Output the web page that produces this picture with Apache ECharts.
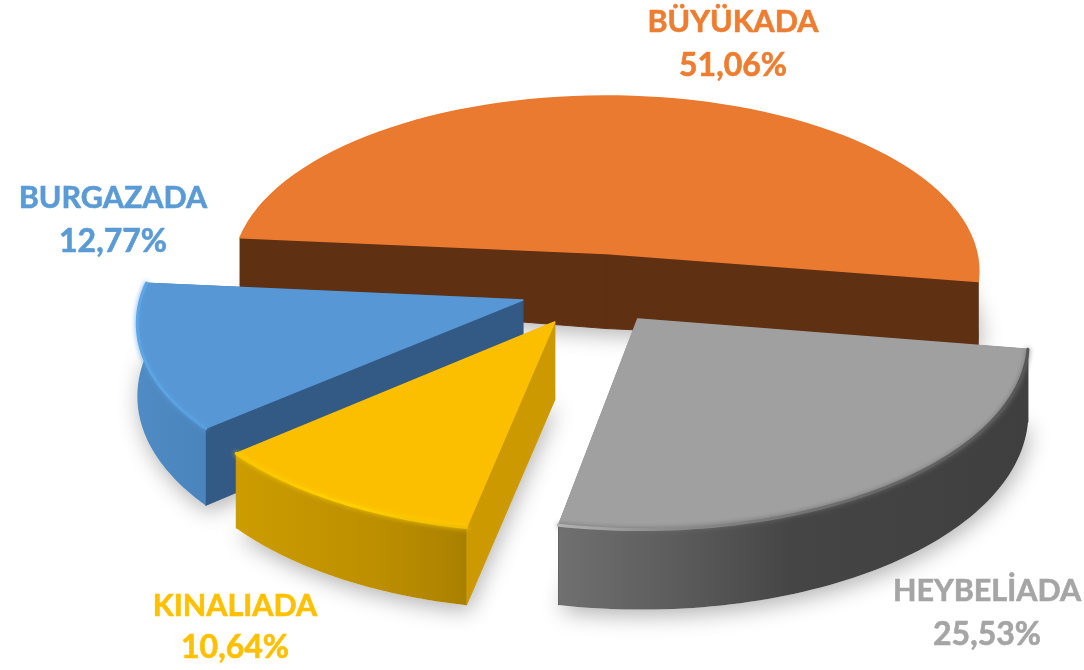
<!DOCTYPE html>
<html>
<head>
<meta charset="utf-8">
<style>html,body{margin:0;padding:0;background:#fff}#c{width:1084px;height:670px}</style>
<script src="https://cdn.jsdelivr.net/npm/echarts@6/dist/echarts.min.js"></script>
</head>
<body>
<div id="c"></div>
<script>
// Data, clockwise from the large slice
var names = ['BÜYÜKADA', 'HEYBELİADA', 'KINALIADA', 'BURGAZADA'];
var values = [51.06, 25.53, 10.64, 12.77];

// Styles
var topColors = ['#ea7a30', '#a0a0a0', '#fbbf00', '#5797d5'];
var radialColors = ['#5f3112', '#555555', '#cc9a00', '#335a85'];
var wallStops = [
  [[0, '#5f3112'], [1, '#5f3112']],
  [[0, '#707070'], [0.25, '#5c5c5c'], [0.5, '#454545'], [1, '#3f3f3f']],
  [[0, '#cc9c00'], [0.6, '#bd8f00'], [1, '#aa8000']],
  [[0, '#4f8bc4'], [1, '#4a84bc']]
];
var rimStops = [
  null,
  [[0, '#b4b4b4'], [0.2, '#909090'], [0.6, '#6c6c6c'], [1, '#565656']],
  [[0, '#f7c600'], [0.5, '#ffd000'], [1, '#f0bc00']],
  [[0, '#5ea6e6'], [1, '#5a9fdd']]
];
var labelColors = ['#ed7d31', '#a5a5a5', '#ffc000', '#5b9bd5'];

// Layout: projection, per-slice offset, radius and depth, label anchors
var proj = {cx: 606, cy: 253.5, a: 368, b: 172, k: 0.1, startDeg: 185.3};
var offsets = [[0, 0], [0.083, 0.367], [-0.134, 0.383], [-0.22, 0.263]];
var radii = [1.008, 1.016, 1.01, 1.012];
var rimDepths = [63, 69, 67, 70];
var apexDepths = [75, 75, 78, 72];
var labelPos = [[733, 22, 66], [987, 591, 635], [235, 606, 648], [113, 198, 242]];
var paintOrder = [0, 1, 3, 2];

var total = values.reduce(function (s, v) { return s + v; }, 0);

function project(x, y) {
  var s = 1 / (1 - proj.k * y);
  return {x: proj.cx + proj.a * x * s, y: proj.cy + proj.b * y * s, s: s};
}

function sliceGeometry(i) {
  var before = 0;
  for (var j = 0; j < i; j++) before += values[j];
  var a0 = proj.startDeg + before / total * 360;
  var a1 = a0 + values[i] / total * 360;
  var ex = offsets[i][0], ey = offsets[i][1], t = rimDepths[i], r = radii[i];
  var up = [], down = [];
  var n = 72;
  for (var m = 0; m <= n; m++) {
    var d = (a0 + (a1 - a0) * m / n) * Math.PI / 180;
    var p = project(ex + r * Math.cos(d), ey + r * Math.sin(d));
    up.push([p.x, p.y]);
    down.push([p.x, p.y + t * p.s]);
  }
  var c = project(ex, ey);
  return {
    up: up, down: down,
    apex: [c.x, c.y],
    apexDown: [c.x, c.y + apexDepths[i]]
  };
}

function percentText(v) { return v.toFixed(2).replace('.', ',') + '%'; }

function grad(stops) {
  return new echarts.graphic.LinearGradient(0, 0, 1, 0, stops.map(function (s) {
    return {offset: s[0], color: s[1]};
  }));
}

function renderShadow(params, api) {
  var g = sliceGeometry(api.value(0));
  return {
    type: 'polygon',
    shape: {points: [g.apexDown].concat(g.down)},
    style: {
      fill: '#ffffff',
      shadowBlur: 22,
      shadowColor: 'rgba(0,0,0,0.30)',
      shadowOffsetX: 2,
      shadowOffsetY: 6
    },
    silent: true
  };
}

function renderSlice(params, api) {
  var i = api.value(0);
  var g = sliceGeometry(i);
  var kids = [];
  var n = g.up.length - 1;
  // radial faces, stroked in their own colour so no seam shows where they meet
  [0, n].forEach(function (e) {
    kids.push({type: 'polygon', shape: {points: [g.apex, g.up[e], g.down[e], g.apexDown]},
      style: {fill: radialColors[i], stroke: radialColors[i], lineWidth: 1}});
  });
  // outer wall
  kids.push({type: 'polygon', shape: {points: g.up.concat(g.down.slice().reverse())},
    style: {fill: grad(wallStops[i])}});
  // top face
  kids.push({type: 'polygon', shape: {points: [g.apex].concat(g.up)},
    style: {fill: topColors[i], stroke: topColors[i], lineWidth: 1.5, lineJoin: 'round'}});
  // bevel along the rim
  if (rimStops[i]) {
    kids.push({type: 'polyline', shape: {points: g.up},
      style: {fill: null, stroke: grad(rimStops[i]), lineWidth: 3, lineCap: 'round', lineJoin: 'round',
        shadowBlur: 5, shadowColor: rimStops[i][Math.floor(rimStops[i].length / 2)][1]}});
  }
  // labels
  var lp = labelPos[i];
  kids.push({type: 'text', x: lp[0], y: lp[1], style: {text: names[i], fill: labelColors[i],
    stroke: labelColors[i], lineWidth: 0.6, font: 'bold 30.5px Lato, "Open Sans", sans-serif',
    align: 'center', verticalAlign: 'middle'}});
  kids.push({type: 'text', x: lp[0], y: lp[2], style: {text: percentText(values[i]), fill: labelColors[i],
    stroke: labelColors[i], lineWidth: 0.6, font: 'bold 32px Lato, "Open Sans", sans-serif',
    align: 'center', verticalAlign: 'middle'}});
  return {type: 'group', children: kids, silent: true};
}

var seriesData = paintOrder.map(function (i) { return [i, values[i]]; });

var chart = echarts.init(document.getElementById('c'), null, {renderer: 'canvas'});
chart.setOption({
  animation: false,
  backgroundColor: '#ffffff',
  series: [
    {type: 'custom', coordinateSystem: 'none', z: 1, renderItem: renderShadow, data: seriesData, silent: true},
    {type: 'custom', coordinateSystem: 'none', z: 2, renderItem: renderSlice, data: seriesData, silent: true}
  ]
});
</script>
</body>
</html>
